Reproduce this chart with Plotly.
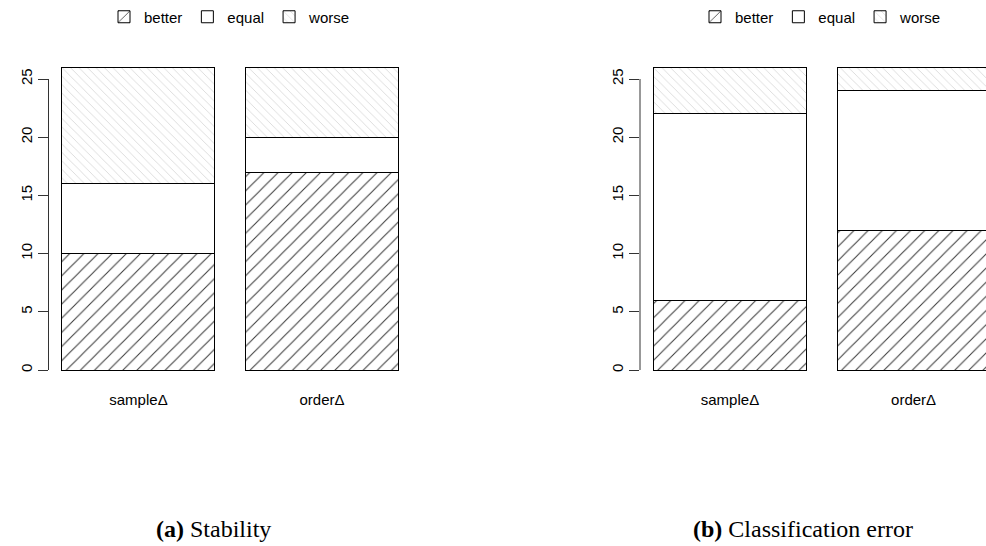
import plotly.graph_objects as go

# Counts of datasets where each method did better / equal / worse
categories = ["sampleΔ", "orderΔ"]
bar_pos = [0.7, 1.9]

stability_better = [10, 17]
stability_equal = [6, 3]
stability_worse = [10, 6]

classif_better = [6, 12]
classif_equal = [16, 12]
classif_worse = [4, 2]

y_ticks = [0, 5, 10, 15, 20, 25]
series_names = ["better", "equal", "worse"]

W, H = 986, 546

# panel geometry (pixels)
left_x0, left_x1 = 48.5, 412.0
right_x0 = 640.0
px_per_unit_x = 153.0
y_bottom_px, px_per_unit_y = 370.0, 11.64
y_lo, y_hi = -0.4, 26.4

x_range_left = [0.112, 2.488]
x_range_right = [0.112, 0.112 + (W - right_x0) / px_per_unit_x]

dom_y = [(H - (y_bottom_px - y_lo * px_per_unit_y)) / H,
         (H - (y_bottom_px - y_hi * px_per_unit_y)) / H]

font_sans = "Liberation Sans, Arial, sans-serif"
font_serif = "Liberation Serif, Times New Roman, serif"

styles = {
    "better": dict(color="white",
                   pattern=dict(shape="/", fgcolor="#3a3a3a", fgopacity=1,
                                bgcolor="white", size=10, solidity=0.1,
                                fillmode="overlay")),
    "equal": dict(color="white"),
    "worse": dict(color="white",
                  pattern=dict(shape="\\", fgcolor="#dadada", fgopacity=1,
                               bgcolor="white", size=6, solidity=0.15,
                               fillmode="overlay")),
}

fig = go.Figure()


def add_panel(values, xa, ya, legend_name):
    for name, vals in zip(series_names, values):
        marker = dict(styles[name])
        marker["line"] = dict(color="black", width=1)
        fig.add_trace(go.Bar(
            x=bar_pos, y=vals, width=1.0, name=name,
            marker=marker, xaxis=xa, yaxis=ya, legend=legend_name,
            showlegend=True, hoverinfo="skip",
        ))


add_panel([stability_better, stability_equal, stability_worse], "x", "y", "legend")
add_panel([classif_better, classif_equal, classif_worse], "x2", "y2", "legend2")

xaxis_common = dict(
    tickvals=bar_pos, ticktext=categories, ticks="", showline=False,
    showgrid=False, zeroline=False, fixedrange=True,
    tickfont=dict(family=font_sans, size=15, color="black"),
    ticklabelstandoff=14,
)
yaxis_common = dict(
    range=[y_lo, y_hi], domain=dom_y, tickvals=y_ticks, ticks="outside",
    ticklen=10, tickwidth=1, tickcolor="#333", showline=False,
    showgrid=False, zeroline=False, tickangle=-90,
    tickfont=dict(family=font_sans, size=15, color="black"),
)

legend_common = dict(orientation="h", y=1 - 17 / H, yanchor="middle",
                     xanchor="center",
                     font=dict(family=font_sans, size=15, color="black"),
                     bgcolor="rgba(0,0,0,0)", traceorder="normal")

fig.update_layout(
    width=W, height=H,
    margin=dict(l=0, r=0, t=0, b=0),
    paper_bgcolor="white", plot_bgcolor="rgba(0,0,0,0)",
    barmode="stack",
    xaxis=dict(domain=[left_x0 / W, left_x1 / W], range=x_range_left,
               anchor="y", **xaxis_common),
    yaxis=dict(anchor="x", **yaxis_common),
    xaxis2=dict(domain=[right_x0 / W, 1.0], range=x_range_right,
                anchor="y2", **xaxis_common),
    yaxis2=dict(anchor="x2", **yaxis_common),
    legend=dict(x=230 / W, **legend_common),
    legend2=dict(x=821 / W, **legend_common),
    showlegend=True,
)

# y axis lines span only the tick range, like base R axes
for xa_px in (left_x0, right_x0):
    fig.add_shape(type="line", xref="paper", yref="y",
                  x0=xa_px / W, x1=xa_px / W, y0=y_ticks[0], y1=y_ticks[-1],
                  line=dict(color="#333", width=1))

captions = [("<b>(a)</b> Stability", 213), ("<b>(b)</b> Classification error", 803)]
for text, cx in captions:
    fig.add_annotation(text=text, xref="paper", yref="paper",
                       x=cx / W, y=1 - 529 / H, xanchor="center", yanchor="middle",
                       showarrow=False,
                       font=dict(family=font_serif, size=24, color="black"))

fig.write_html("out.html")
